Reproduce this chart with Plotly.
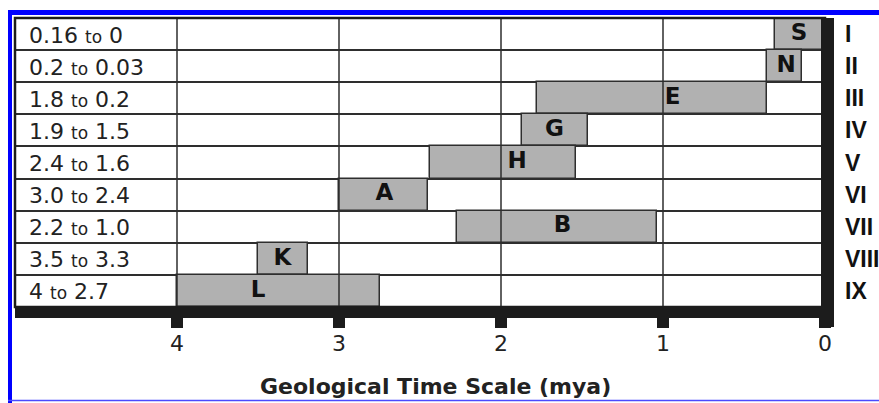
import plotly.graph_objects as go

# ---- data (rows from top to bottom) ----
range_labels = ["0.16 to 0", "0.2 to 0.03", "1.8 to 0.2", "1.9 to 1.5", "2.4 to 1.6",
                "3.0 to 2.4", "2.2 to 1.0", "3.5 to 3.3", "4 to 2.7"]
letters = ["S", "N", "E", "G", "H", "A", "B", "K", "L"]
roman = ["I", "II", "III", "IV", "V", "VI", "VII", "VIII", "IX"]
# bar extents as drawn (mya)
bar_start = [0.31, 0.36, 1.78, 1.87, 2.44, 3.00, 2.27, 3.50, 4.00]
bar_end = [0.00, 0.14, 0.36, 1.46, 1.54, 2.45, 1.04, 3.19, 2.75]
# letter positions as drawn (mya)
letter_x = [0.16, 0.24, 0.94, 1.67, 1.90, 2.72, 1.62, 3.35, 3.50]
tick_vals = [4, 3, 2, 1, 0]
tick_text = ["4", "3", "2", "1", "0"]
x_title = "Geological Time Scale (mya)"

# ---- layout geometry ----
W, H = 879, 403
L, R, T, B = 15, 54, 18, 96
PW, PH = W - L - R, H - T - B


def px(x):
    return (x - L) / PW


def py(y):
    return (H - B - y) / PH


DARK = "#1c1c1c"
LINE = "#2e2e2e"
GRAY = "#b1b1b1"
BLUE = "#0000ff"

fig = go.Figure()
fig.add_trace(go.Bar(
    y=range_labels,
    x=[s - e for s, e in zip(bar_start, bar_end)],
    base=bar_end,
    orientation="h",
    width=1,
    marker=dict(color=GRAY, line=dict(color=LINE, width=1.5)),
    hoverinfo="skip",
))
fig.add_trace(go.Scatter(
    y=range_labels, x=letter_x, text=letters, mode="text",
    textposition="middle center",
    textfont=dict(family="DejaVu Sans", size=23, color="#111111", weight="bold"),
    hoverinfo="skip",
))

shapes = []
# vertical grid lines drawn over the bars
for v in tick_vals[:-1]:
    shapes.append(dict(type="line", xref="x", yref="paper", x0=v, x1=v, y0=0, y1=1,
                       line=dict(color=LINE, width=1.5), layer="above"))
# outer frame
shapes.append(dict(type="rect", xref="paper", yref="paper", x0=0, x1=1, y0=0, y1=1,
                   line=dict(color=DARK, width=2.5), layer="above"))
# thick bottom bar
shapes.append(dict(type="rect", xref="paper", yref="paper", x0=px(15), x1=px(834),
                   y0=py(318), y1=py(307), fillcolor=DARK, line=dict(width=0), layer="above"))
# thick right bar
shapes.append(dict(type="rect", xref="paper", yref="paper", x0=px(821), x1=px(834),
                   y0=py(327), y1=py(18), fillcolor=DARK, line=dict(width=0), layer="above"))
# blue frame
shapes.append(dict(type="rect", xref="paper", yref="paper", x0=px(8), x1=px(879),
                   y0=py(15), y1=py(10), fillcolor=BLUE, line=dict(width=0), layer="above"))
shapes.append(dict(type="rect", xref="paper", yref="paper", x0=px(8), x1=px(12),
                   y0=py(403), y1=py(10), fillcolor=BLUE, line=dict(width=0), layer="above"))
shapes.append(dict(type="line", xref="paper", yref="paper", x0=px(8), x1=px(879),
                   y0=py(400.5), y1=py(400.5), line=dict(color="#4a4aff", width=1.5), layer="above"))

annotations = []
for i, lab in enumerate(range_labels):
    a, b = lab.split(" to ")
    annotations.append(dict(
        xref="paper", yref="y", x=px(27), y=i, xanchor="left", yanchor="middle",
        text=f"{a} <span style='font-size:17px'>to</span> {b}", showarrow=False, yshift=-1,
        font=dict(family="DejaVu Sans", size=22, color="#222222"),
    ))
for i, rn in enumerate(roman):
    annotations.append(dict(
        xref="paper", yref="y", x=px(843), y=i, xanchor="left", yanchor="middle",
        text=rn, showarrow=False,
        font=dict(family="Liberation Sans", size=23, color="#111111", weight="bold"),
    ))
annotations.append(dict(
    xref="paper", yref="paper", x=px(435), y=py(386), xanchor="center", yanchor="middle",
    text=x_title, showarrow=False,
    font=dict(family="DejaVu Sans", size=22, color="#222222", weight="bold"),
))

fig.update_layout(
    width=W, height=H,
    margin=dict(l=L, r=R, t=T, b=B, pad=0),
    paper_bgcolor="white", plot_bgcolor="white",
    showlegend=False,
    bargap=0,
    shapes=shapes,
    annotations=annotations,
    xaxis=dict(
        range=[5, 0], tickmode="array", tickvals=tick_vals, ticktext=tick_text,
        showgrid=False, zeroline=False, showline=False,
        ticks="outside", ticklen=20, tickwidth=12, tickcolor=DARK,
        ticklabelstandoff=-3,
        tickfont=dict(family="DejaVu Sans", size=22, color="#222222"),
    ),
    yaxis=dict(
        type="category", categoryorder="array", categoryarray=range_labels,
        range=[8.5, -0.5], tickson="boundaries", showgrid=True,
        gridcolor=LINE, gridwidth=1.5, showticklabels=False, ticks="",
        zeroline=False, showline=False,
    ),
)

fig.write_html(
    "out.html",
    config={"displayModeBar": False},
    post_script="document.body.style.margin='0';document.body.style.overflow='hidden';",
)
